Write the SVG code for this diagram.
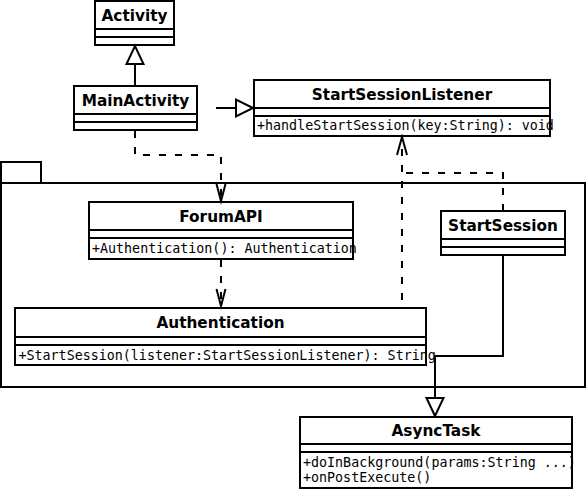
<svg xmlns="http://www.w3.org/2000/svg" width="587" height="490" viewBox="0 0 587 490">
<style>
.box{fill:#fff;stroke:#000;stroke-width:2}
.sep{stroke:#000;stroke-width:2}
.title{font-family:"DejaVu Sans","Liberation Sans",sans-serif;font-weight:bold;font-size:15.3px;text-anchor:middle;fill:#000}
.op{font-family:"DejaVu Sans Mono","Liberation Mono",monospace;font-size:13.33px;fill:#000}
.line{fill:none;stroke:#000;stroke-width:2}
.dash{fill:none;stroke:#000;stroke-width:2;stroke-dasharray:7 9}
.head{fill:#fff;stroke:#000;stroke-width:2}
</style>
<rect width="587" height="490" fill="#fff"/>
<g id="package">
<rect class="box" x="1" y="162" width="40" height="21"/>
<rect class="box" x="1" y="183" width="584" height="204"/>
</g>
<g id="Activity">
<rect class="box" x="95" y="1" width="79" height="44"/>
<line class="sep" x1="95" y1="29" x2="174" y2="29"/>
<line class="sep" x1="95" y1="37" x2="174" y2="37"/>
<text class="title" x="134.5" y="20.5">Activity</text>
</g>
<g id="MainActivity">
<rect class="box" x="74" y="86" width="123" height="44"/>
<line class="sep" x1="74" y1="114" x2="197" y2="114"/>
<line class="sep" x1="74" y1="122" x2="197" y2="122"/>
<text class="title" x="135.5" y="105.5">MainActivity</text>
</g>
<g id="StartSessionListener">
<rect class="box" x="254" y="80" width="296" height="56"/>
<line class="sep" x1="254" y1="108" x2="550" y2="108"/>
<line class="sep" x1="254" y1="116" x2="550" y2="116"/>
<text class="title" x="402" y="99.5">StartSessionListener</text>
<text class="op" x="257" y="130">+handleStartSession(key:String): void</text>
</g>
<g id="ForumAPI">
<rect class="box" x="89" y="202" width="264" height="57"/>
<line class="sep" x1="89" y1="230" x2="353" y2="230"/>
<line class="sep" x1="89" y1="238" x2="353" y2="238"/>
<text class="title" x="221" y="221.5">ForumAPI</text>
<text class="op" x="92" y="252.5">+Authentication(): Authentication</text>
</g>
<g id="StartSession">
<rect class="box" x="441" y="211" width="124" height="44"/>
<line class="sep" x1="441" y1="239" x2="565" y2="239"/>
<line class="sep" x1="441" y1="247" x2="565" y2="247"/>
<text class="title" x="503" y="230.5">StartSession</text>
</g>
<g id="Authentication">
<rect class="box" x="15" y="308" width="411" height="57"/>
<line class="sep" x1="15" y1="337" x2="426" y2="337"/>
<line class="sep" x1="15" y1="345" x2="426" y2="345"/>
<text class="title" x="220.5" y="328">Authentication</text>
<text class="op" x="18.5" y="359.5">+StartSession(listener:StartSessionListener): String</text>
</g>
<g id="AsyncTask">
<rect class="box" x="300" y="417" width="272" height="71"/>
<line class="sep" x1="300" y1="444" x2="572" y2="444"/>
<line class="sep" x1="300" y1="452" x2="572" y2="452"/>
<text class="title" x="436" y="436">AsyncTask</text>
<text class="op" x="303" y="467">+doInBackground(params:String ...)</text>
<text class="op" x="303" y="482">+onPostExecute()</text>
</g>
<g id="connectors">
<line class="line" x1="135" y1="86" x2="135" y2="64"/>
<polygon class="head" points="135,46 126.5,64 143.5,64"/>
<line class="line" x1="216" y1="108" x2="236" y2="108"/>
<polygon class="head" points="253,108 236,99.5 236,116.5"/>
<polyline class="dash" points="135,131 135,155 221,155 221,200"/>
<polyline class="line" points="216.5,184 221,201 225.5,184"/>
<line class="dash" x1="221" y1="260" x2="221" y2="305"/>
<polyline class="line" points="216.5,289 221,306 225.5,289"/>
<line class="dash" x1="402" y1="300" x2="402" y2="138"/>
<polyline class="line" points="397,155 402,137 407,155"/>
<polyline class="dash" points="503,211 503,173 402,173"/>
<polyline class="line" points="503,255 503,356 435,356 435,398"/>
<polygon class="head" points="435,416 426.5,398 443.5,398"/>
</g>
</svg>
